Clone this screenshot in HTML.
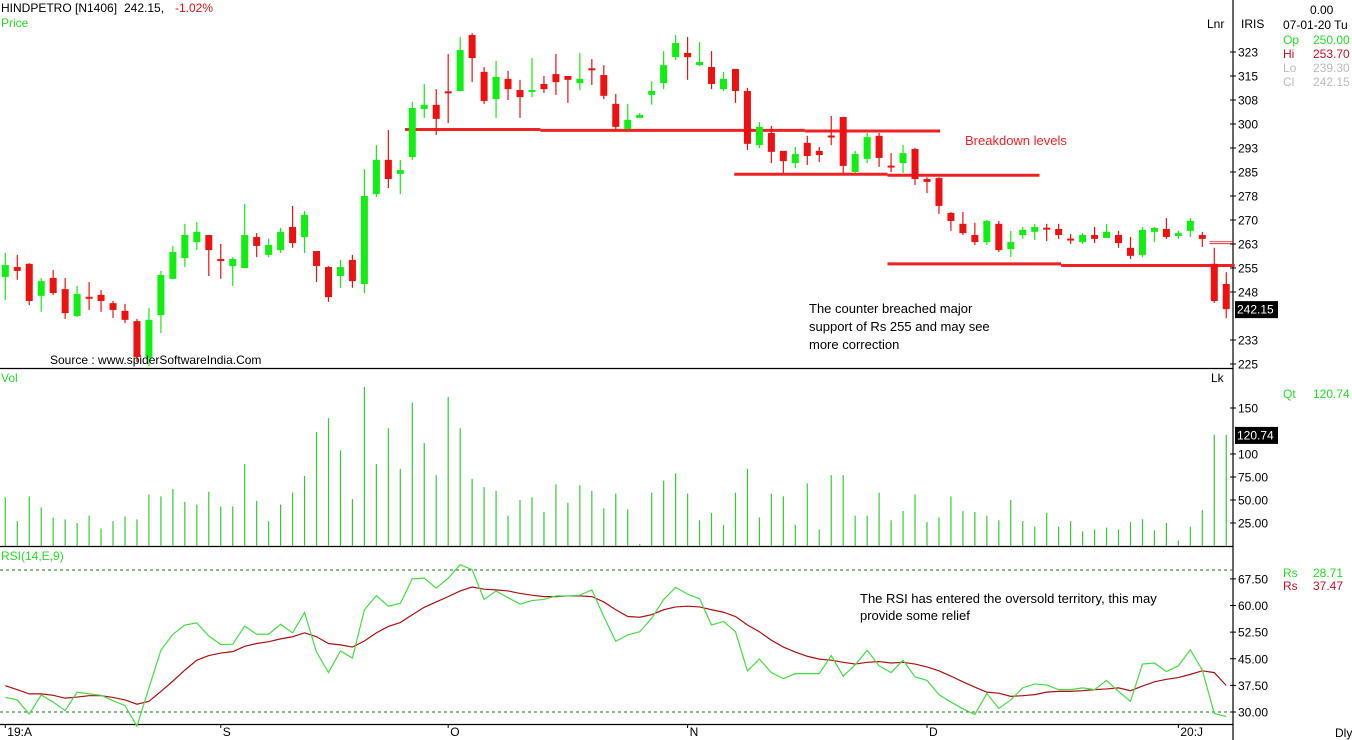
<!DOCTYPE html>
<html><head><meta charset="utf-8"><style>
body{margin:0;background:#fff;}
svg{display:block;font-family:"Liberation Sans",Tahoma,sans-serif;}
</style></head><body>
<svg id="chart" width="1352" height="740" viewBox="0 0 1352 740" xmlns="http://www.w3.org/2000/svg">
<rect x="0" y="0" width="1352" height="740" fill="#fff"/>
<g id="frame">
<line x1="1233" y1="0" x2="1233" y2="740" stroke="#000" stroke-width="1.2"/>
<line x1="0" y1="368.5" x2="1233" y2="368.5" stroke="#000" stroke-width="1.2"/>
<line x1="0" y1="546.5" x2="1233" y2="546.5" stroke="#000" stroke-width="1.2"/>
<line x1="0" y1="724.5" x2="1233" y2="724.5" stroke="#000" stroke-width="1.2"/>
</g>
<g id="price"></g>
<g id="vol"></g>
<g id="rsi"></g>
<g id="axes" font-size="12" fill="#000"></g>
<g font-size="12">
<text x="1" y="12" fill="#000">HINDPETRO [N1406]</text>
<text x="124" y="12" fill="#000">242.15,</text>
<text x="175" y="12" fill="#dd1111">-1.02%</text>
<text x="1" y="27" fill="#22dd22">Price</text>
<text x="1207" y="28" fill="#000">Lnr</text>
<text x="1241" y="28" fill="#000">IRIS</text>
<text x="1310" y="14" fill="#000">0.00</text>
<text x="1283" y="29" fill="#000">07-01-20 Tu</text>
<text x="1283" y="44" fill="#22dd22">Op</text>
<text x="1313" y="44" fill="#22dd22">250.00</text>
<text x="1283" y="58" fill="#cc1122">Hi</text>
<text x="1313" y="58" fill="#cc1122">253.70</text>
<text x="1283" y="72" fill="#bbb">Lo</text>
<text x="1313" y="72" fill="#bbb">239.30</text>
<text x="1283" y="86" fill="#bbb">Cl</text>
<text x="1313" y="86" fill="#bbb">242.15</text>
<text x="1" y="382" fill="#22dd22">Vol</text>
<text x="1211" y="382" fill="#000">Lk</text>
<text x="1283" y="398" fill="#22dd22">Qt</text>
<text x="1313" y="398" fill="#22dd22">120.74</text>
<text x="1" y="560" fill="#22dd22">RSI(14,E,9)</text>
<text x="1283" y="577" fill="#22dd22">Rs</text>
<text x="1313" y="577" fill="#22dd22">28.71</text>
<text x="1283" y="590" fill="#cc1122">Rs</text>
<text x="1313" y="590" fill="#cc1122">37.47</text>
<text x="1335" y="737" fill="#000">Dly</text>
</g>
<g font-size="13" fill="#000">
<text x="965" y="145" fill="#ee2222">Breakdown levels</text>
<text x="809" y="313">The counter breached major</text>
<text x="809" y="331">support of Rs 255 and may see</text>
<text x="809" y="349">more correction</text>
<text x="860" y="603">The RSI has entered the oversold territory, this may</text>
<text x="860" y="620">provide some relief</text>
<text x="50" y="364" font-size="12">Source : www.spiderSoftwareIndia.Com</text>
</g>
</svg>
<script>
const opens=[252.2,255.3,256.3,246.3,251.9,248.4,240,246,246.6,244,241.6,238.4,226.9,240.3,251.6,258.1,263.1,265.3,257.8,255.6,255,264.7,259.1,260.6,267.8,264.7,260.3,255.3,252.5,257.5,250,278.1,288.8,284.4,289.7,
304.7,306,310.2,310.3,327.8,316.3,307.8,314.1,310.6,310,312.5,315.6,315,312.8,317.4,315.3,306.3,298.4,301.9,309.1,312.8,320.9,322.2,318.4,317.8,310.9,317.2,310.3,293.4,297.2,291.6,287.8,294.1,291.6,296.4,302.2,
285,289.1,296.3,287,287.8,292.2,282.8,283.1,272.2,268.8,265.3,263.1,268.8,260.9,265.3,266.3,267.6,267.2,264.2,263.1,265.3,264.4,265.3,261.3,259.1,266.3,267.2,265,266.6,265.3,256.3,250];
const highs=[259.7,259.1,256.5,251.9,254.4,251.9,249.4,250.6,248.1,244.7,243.8,239.1,242.5,254.1,261.9,268.8,269.4,265.3,262.5,258.4,275,265.9,264.1,267.5,274.4,272.8,260.3,255.6,257.5,259.1,285.9,293.4,298.1,288.8,306.9,
312.5,310.9,321.9,327.2,328.4,317.8,319.7,316.6,313.8,320.6,315,321.9,315,322.2,320.3,318.4,309.4,306.3,303.4,313.4,322.8,327.8,327.2,325.6,322.8,316.3,317.2,311.3,300.6,299.4,291.6,292.8,296.3,292.8,302.5,302.2,
291.6,297.2,297.2,290.9,293.4,292.5,283.4,283.4,272.5,272.5,269.1,270,269.7,266.6,267.8,268.8,268.8,268.8,265.6,265.9,267.8,268.8,266.6,264.7,267.8,267.8,270.6,266.6,270.6,266.3,261.3,253.7];
const lows=[245,251.3,243.4,241.3,246.6,239.1,239.7,241.9,241.3,239.4,237.8,225.6,224.4,234.7,251.6,255.3,260.6,252.5,251.6,249.4,255,258.4,258.4,259.7,261.3,259.7,250.6,244.4,248.8,248.8,247.2,277.2,280,278.1,288.8,
301.9,296.6,300.3,310.3,313.1,306.3,301.9,307.5,301.9,308.4,309.7,309.1,306.6,310.6,312.2,307.8,298.4,298.4,301.9,306,310.9,320,313.8,318.1,310.9,310.3,306.6,291.9,292.5,287.8,284.7,286.3,287.2,288.1,293.4,284.7,
284.7,287.8,286.6,285,284.7,280.9,278.4,271.9,266.6,265.3,262.2,262.2,260,258.4,264.1,263.8,263.4,264.1,262.5,262.5,262.8,264.4,261.3,257.8,258.4,263.1,264.1,264.1,264.7,261.6,244.1,239.3];
const closes=[255.9,254.1,244.7,250.9,247.2,240.9,246.9,245.6,244.7,241.9,238.8,227.2,238.8,252.8,260,265.3,266.3,260.6,257.2,257.8,265.3,261.9,262.2,266.3,262.8,271.6,255.6,245.9,255.3,250.9,277.5,288.8,282.8,285.6,305,
306,301.6,310,323.1,320.6,307.2,314.7,310.9,308.4,310.6,310.9,313.1,313.8,314.1,317.2,308.8,299.1,301.3,302.8,310.3,318.4,325.3,320.9,319.4,312.5,314.1,310.3,293.8,299.1,291.3,288.4,290.6,290,290.3,296.3,286.9,
290.6,295.9,289.4,286.9,290.9,282.8,281.9,274.4,269.7,265.9,263.1,269.7,260.6,263.1,266.9,267.8,267.5,265.3,264.1,265.3,264.1,266.3,262.8,258.8,266.9,267.5,264.7,265.9,269.7,264.1,244.7,242.15];
const volumes=[53,27,54,42,31,29,25,33,19,27,32,29,56,54,62,48,45,59,43,43,89,49,27,45,58,76,124,139,104,51,173,89,128,84,156,112,77,162,128,73,64,60,33,50,53,37,67,47,66,60,41,57,40,2,
58,71,79,57,28,36,23,58,84,31,57,54,23,68,18,77,77,33,33,58,28,38,56,26,31,54,38,37,33,28,50,27,21,36,21,27,16,18,20,18,26,29,17,25,6,21,39,121,120.74];
const rsiValues=[34.1,33.4,29.4,34.8,32.8,30.4,35.6,35.1,34.7,33.2,31.8,26,36.8,47.4,51.9,54.5,55.1,51.4,49,49.1,54.2,51.9,51.9,54.7,52.3,58,46.9,41.1,47.2,45.2,58.8,62.8,59.8,60.6,67.5,67.7,64.9,67.7,71.5,70.1,61.7,64.1,62.2,60.4,61.4,61.7,62.7,62.7,62.9,64.4,56.9,49.9,51.7,
52.6,56.4,61.7,65.1,63.2,61.9,54.5,55.5,52.6,41.6,44.9,41.1,39.4,40.8,40.8,40.8,45.9,40.1,43.3,47.4,43,41.1,44.6,39.9,38.9,34.9,32.8,30.9,29.3,35.2,31,33.4,36.8,37.9,37.6,36.3,36.3,36.8,36.3,38.9,35.8,33,43.5,43.8,41.4,43,47.5,41.8,29.6,28.71];
const signalValues=[37.4,36.3,35.1,35.1,34.7,33.9,34.2,34.6,34.6,34.1,33.4,32.2,33,35.8,38.7,41.8,44.6,45.9,46.6,47,48.5,49.3,49.8,50.6,51.2,52.3,51.2,49.3,48.9,48.3,50,52.3,54.1,55.2,57.4,59.5,61,62.5,64.1,65.2,64.6,64.4,64.1,63.4,62.9,62.5,62.5,62.7,62.7,62.5,61,58.8,56.9,
56.7,57.4,58.8,59.6,59.8,59.6,58.8,58.1,56.9,54.5,52.6,50.2,48.3,46.9,45.7,44.9,44.6,44,43.5,44,44.2,43.8,44,43.5,42.7,41.6,40.1,38.5,37,35.6,35.3,34.4,34.6,34.9,35.6,35.8,35.8,36,36.3,36.5,36.8,36,37.3,38.5,39.2,39.7,40.6,41.6,41.1,37.47];
const priceTicks=[322.5,315,307.5,300,292.5,285,277.5,270,262.5,255,247.5,232.5,225];
const priceTickLabels=["323","315","308","300","293","285","278","270","263","255","248","233","225"];
const volTicks=[150,100,75,50,25];
const volTickLabels=["150","100","75.00","50.00","25.00"];
const rsiTicks=[67.5,60,52.5,45,37.5,30];
const rsiTickLabels=["67.50","60.00","52.50","45.00","37.50","30.00"];
const dateLabels=["19:A","S","O","N","D","20:J"];
const dateIndex=[0,18,37,57,77,98];
// support/resistance levels: start index, end index, price
const levelStart=[33.4,44.7,66.8,60.9,73.7,73.7,88.2];
const levelEnd=[44.7,66.8,78.1,73.7,86.4,88.2,102.7];
const levelPrice=[298.3,298,297.8,284.3,284,256.3,255.8];

const NS="http://www.w3.org/2000/svg";
const xs=i=>5.3+i*11.97;
const yP=p=>364-(p-225)*3.2;
const yV=v=>546-v*0.92;
const yR=v=>712-(v-30)*3.55;
function mk(tag,attrs,parent){const e=document.createElementNS(NS,tag);for(const k in attrs)e.setAttribute(k,attrs[k]);parent.appendChild(e);return e;}
const gP=document.getElementById('price'),gV=document.getElementById('vol'),gR=document.getElementById('rsi'),gA=document.getElementById('axes');

for(let i=0;i<levelPrice.length;i++){
  const l=mk('line',{x1:xs(levelStart[i]),x2:xs(levelEnd[i]),y1:yP(levelPrice[i]),y2:yP(levelPrice[i]),stroke:'#ee2222','stroke-width':3},gP);
  
  
}
for(let i=0;i<opens.length;i++){
  const up=closes[i]>=opens[i];const col=up?'#11ee11':'#ee1111';const x=xs(i);
  const w=mk('line',{x1:x,x2:x,y1:yP(highs[i]),y2:yP(lows[i]),stroke:col,'stroke-width':1.2},gP);
  
  
  const t=Math.min(yP(opens[i]),yP(closes[i]));const h=Math.max(2,Math.abs(yP(opens[i])-yP(closes[i])));
  const b=mk('rect',{x:x-3.5,y:t,width:7,height:h,fill:col},gP);
  
  
}
for(const d of [263.2,262.6]){
  const m=mk('line',{x1:xs(100.6),x2:xs(102.6),y1:yP(d),y2:yP(d),stroke:'#ee1111','stroke-width':0.8},gP);
  
  
}
for(let i=0;i<volumes.length;i++){
  const v=mk('line',{x1:xs(i),x2:xs(i),y1:yV(volumes[i]),y2:546,stroke:'#33cc33','stroke-width':1.2},gV);
  
  
}
for(const lv of [70,30]){
  const d=mk('line',{x1:0,x2:1233,y1:yR(lv),y2:yR(lv),stroke:'#117711','stroke-width':1,'stroke-dasharray':'3,3'},gR);
  
  
}
const sig=mk('polyline',{points:signalValues.map((v,i)=>xs(i)+','+yR(v)).join(' '),fill:'none',stroke:'#aa1111','stroke-width':1.2},gR);


const rl=mk('polyline',{points:rsiValues.map((v,i)=>xs(i)+','+yR(v)).join(' '),fill:'none',stroke:'#44dd44','stroke-width':1.2},gR);


function tick(y,label,name){
  const t=mk('line',{x1:1230,x2:1236,y1:y,y2:y,stroke:'#000'},gA);
  
  
  const tx=mk('text',{x:1238,y:y+4.5},gA);tx.textContent=label;
  
  
}
priceTicks.forEach((p,i)=>tick(yP(p),priceTickLabels[i],'price-axis'));
volTicks.forEach((v,i)=>tick(yV(v),volTickLabels[i],'volume-axis'));
rsiTicks.forEach((v,i)=>tick(yR(v),rsiTickLabels[i],'rsi-axis'));
dateLabels.forEach((d,i)=>{
  const x=xs(dateIndex[i]);
  const t=mk('line',{x1:x,x2:x,y1:724,y2:728,stroke:'#000'},gA);
  
  
  const tx=mk('text',{x:x+2,y:736},gA);tx.textContent=d;
  
  
});
function box(y,label,name){
  const r=mk('rect',{x:1235,y:y-8,width:43,height:17,fill:'#000'},gA);
  
  
  const t=mk('text',{x:1237,y:y+4.5,fill:'#fff'},gA);t.textContent=label;
  
  
}
box(yP(closes[closes.length-1]),closes[closes.length-1].toFixed(2),'last-price');
box(yV(volumes[volumes.length-1]),volumes[volumes.length-1].toFixed(2),'last-volume');
</script>
</body></html>
